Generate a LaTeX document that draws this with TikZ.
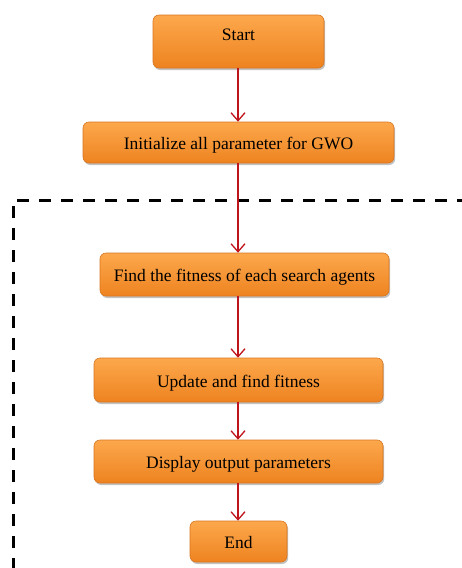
\documentclass[tikz,border=0pt]{standalone}
\usepackage{fontspec}
\setmainfont{Liberation Serif}
\usetikzlibrary{arrows.meta,shadows}
\definecolor{boxtop}{HTML}{FCA84C}
\definecolor{boxbot}{HTML}{EE8320}
\definecolor{boxline}{HTML}{D87520}
\definecolor{arrowred}{HTML}{C0141C}
\tikzset{
  stepbox/.style={draw=boxline, line width=0.6pt, rounded corners=6pt,
    top color=boxtop, bottom color=boxbot,
    drop shadow={shadow xshift=1.2pt, shadow yshift=-2pt, fill=black!40, opacity=0.6},
    inner sep=0pt, font=\fontsize{17.5}{20}\selectfont, text=black,
    text height=15pt, text depth=1pt},
  flow/.style={draw=arrowred, line width=1.2pt,
    -{Straight Barb[length=8pt,width=14pt,line width=1.3pt]}},
  groupframe/.style={line width=3pt, dash pattern=on 12pt off 10pt}
}
\begin{document}
\begin{tikzpicture}[x=1pt,y=-1pt]
\useasboundingbox (0,0) rectangle (462,568);
\node[stepbox, minimum width=171pt, minimum height=53pt, text depth=18pt] (start) at (238.5,41.5) {Start};
\node[stepbox, minimum width=311pt, minimum height=41pt] (init) at (238.5,142.5) {Initialize all parameter for GWO};
\node[stepbox, minimum width=289pt, minimum height=43pt] (fit) at (244.5,274.5) {Find the fitness of each search agents};
\node[stepbox, minimum width=289pt, minimum height=44pt] (upd) at (238.5,380) {Update and find fitness};
\node[stepbox, minimum width=289pt, minimum height=43pt] (disp) at (238.5,461.5) {Display output parameters};
\node[stepbox, minimum width=97pt, minimum height=41pt] (end) at (238.5,541.5) {End};
% loop frame around the iterative part
\coordinate (frameBL) at (13,570);
\coordinate (frameTL) at (13,200);
\coordinate (frameTR) at (464,200);
\draw[groupframe] (frameBL) -- (frameTL) -- (frameTR);
% connectors
\draw[flow] (start.south -| 238,0) -- (init.north -| 238,0);
\draw[flow] (init.south -| 238,0) -- (fit.north -| 238,0);
\draw[flow] (fit.south -| 238,0) -- (upd.north -| 238,0);
\draw[flow] (upd.south -| 238,0) -- (disp.north -| 238,0);
\draw[flow] (disp.south -| 238,0) -- (end.north -| 238,0);
\end{tikzpicture}
\end{document}
